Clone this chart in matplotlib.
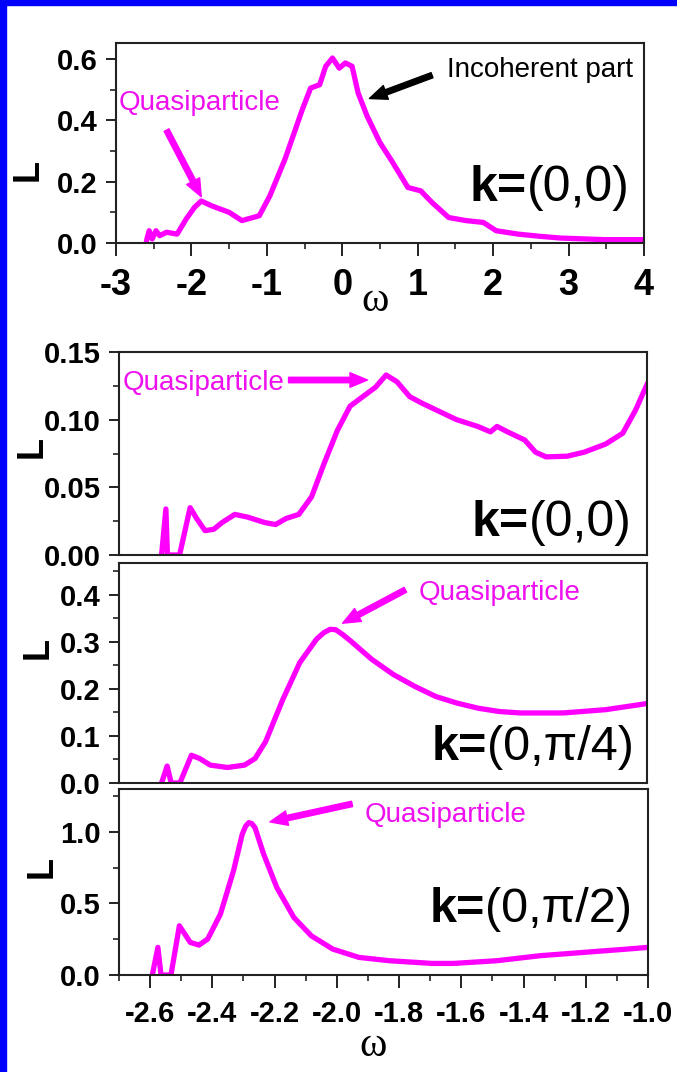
import matplotlib
matplotlib.use("Agg")
import matplotlib.pyplot as plt
from matplotlib.patches import Rectangle
from matplotlib.ticker import MultipleLocator, FormatStrFormatter

W, H = 677, 1072
MAGENTA = "#ff00ff"
TXT_MAG = "#ee10ee"
SANS = ["Liberation Sans", "DejaVu Sans"]
SERIF = ["Liberation Serif", "DejaVu Serif"]

plt.rcParams["axes.unicode_minus"] = False
plt.rcParams["font.family"] = SANS

# top panel: k=(0,0), full window
w_full = [-2.60, -2.59, -2.56, -2.52, -2.47, -2.42, -2.33, -2.19, -2.07, -1.96, -1.87,
          -1.73, -1.50, -1.33, -1.10, -0.96, -0.76, -0.53, -0.42, -0.30, -0.22, -0.13,
          -0.04, 0.04, 0.13, 0.21, 0.33, 0.50, 0.67, 0.87, 1.04, 1.19, 1.41, 1.64, 1.87,
          2.04, 2.33, 2.61, 2.90, 3.47, 4.00]
L_full = [0.0, 0.013, 0.040, 0.013, 0.040, 0.024, 0.035, 0.029, 0.078, 0.116, 0.137,
          0.121, 0.100, 0.073, 0.089, 0.154, 0.273, 0.435, 0.505, 0.516, 0.576, 0.603,
          0.570, 0.587, 0.576, 0.489, 0.413, 0.327, 0.262, 0.181, 0.170, 0.132, 0.083,
          0.073, 0.067, 0.040, 0.029, 0.022, 0.016, 0.011, 0.011]

# zoomed panels
w_k00 = [-2.563, -2.549, -2.544, -2.505, -2.471, -2.450, -2.423, -2.395, -2.368, -2.327,
         -2.286, -2.231, -2.196, -2.162, -2.121, -2.080, -2.039, -1.997, -1.956, -1.915,
         -1.874, -1.840, -1.805, -1.764, -1.723, -1.613, -1.545, -1.504, -1.483, -1.449,
         -1.394, -1.359, -1.325, -1.257, -1.202, -1.133, -1.078, -1.037, -1.000]
L_k00 = [0.0, 0.034, 0.0, 0.0, 0.035, 0.027, 0.018, 0.019, 0.024, 0.030,
         0.028, 0.024, 0.0225, 0.027, 0.030, 0.043, 0.068, 0.092, 0.110, 0.117,
         0.124, 0.133, 0.128, 0.117, 0.112, 0.100, 0.095, 0.091, 0.095, 0.091,
         0.085, 0.076, 0.0725, 0.073, 0.076, 0.082, 0.090, 0.107, 0.126]

w_k04 = [-2.563, -2.545, -2.532, -2.504, -2.467, -2.440, -2.406, -2.351, -2.296, -2.262,
         -2.228, -2.173, -2.118, -2.064, -2.040, -2.020, -2.002, -1.980, -1.954, -1.886,
         -1.817, -1.749, -1.680, -1.612, -1.543, -1.475, -1.407, -1.270, -1.133, -1.000]
L_k04 = [0.0, 0.036, 0.0, 0.0, 0.059, 0.052, 0.038, 0.033, 0.038, 0.052,
         0.088, 0.177, 0.256, 0.306, 0.320, 0.327, 0.326, 0.316, 0.302, 0.263,
         0.231, 0.206, 0.184, 0.170, 0.159, 0.152, 0.149, 0.149, 0.156, 0.169]

w_k02 = [-2.593, -2.575, -2.565, -2.533, -2.506, -2.471, -2.443, -2.415, -2.374, -2.332,
         -2.304, -2.293, -2.283, -2.273, -2.263, -2.235, -2.193, -2.138, -2.082, -2.013,
         -1.929, -1.832, -1.693, -1.624, -1.485, -1.346, -1.207, -1.068, -1.000]
L_k02 = [0.0, 0.193, 0.0, 0.0, 0.344, 0.228, 0.209, 0.251, 0.426, 0.728,
         0.984, 1.040, 1.065, 1.058, 1.030, 0.844, 0.612, 0.402, 0.274, 0.181,
         0.123, 0.100, 0.081, 0.081, 0.100, 0.135, 0.158, 0.181, 0.193]


def px_axes(l, t, r, b):
    return fig.add_axes([l / W, 1 - b / H, (r - l) / W, (b - t) / H])


def style(ax):
    for s in ax.spines.values():
        s.set_linewidth(1.5)
        s.set_color("#222222")
    ax.tick_params(which="major", length=7, width=1.4, direction="out", color="#222222")
    ax.tick_params(which="minor", length=4, width=1.2, direction="out", color="#222222")
    ax.tick_params(axis="y", labelsize=21, pad=6)
    ax.tick_params(axis="x", which="major", length=9, pad=9)
    for lab in ax.get_yticklabels() + ax.get_xticklabels():
        lab.set_fontweight("bold")


def k_label(ax, x, y, rest, size):
    t = ax.text(x, y, rest, ha="right", va="center", fontsize=size)
    ax.annotate("k=", xy=(0, 0), xycoords=t, ha="right", va="bottom",
                fontsize=size, fontweight="bold")


def arrow(ax, head, tail, color):
    ax.annotate("", xy=head, xytext=tail,
                arrowprops=dict(arrowstyle="simple,head_length=0.9,head_width=0.75,tail_width=0.28",
                                color=color, mutation_scale=14, shrinkA=0, shrinkB=0))


fig = plt.figure(figsize=(W / 100, H / 100), dpi=100)
fig.patch.set_facecolor("white")
fig.add_artist(Rectangle((0, 0), 6 / W, 1, transform=fig.transFigure, color="#0000ff", zorder=10))
fig.add_artist(Rectangle((0, 1 - 5 / H), 1, 5 / H, transform=fig.transFigure, color="#0000ff", zorder=10))

# ---- top panel
ax0 = px_axes(116, 43, 644, 243)
ax0.plot(w_full, L_full, color=MAGENTA, lw=3.8, solid_joinstyle="round")
ax0.set_xlim(-3, 4)
ax0.set_ylim(0, 0.652)
ax0.xaxis.set_major_locator(MultipleLocator(1))
ax0.xaxis.set_minor_locator(MultipleLocator(0.5))
ax0.yaxis.set_major_locator(MultipleLocator(0.2))
ax0.yaxis.set_minor_locator(MultipleLocator(0.1))
ax0.xaxis.set_major_formatter(FormatStrFormatter("%d"))
ax0.yaxis.set_major_formatter(FormatStrFormatter("%.1f"))
style(ax0)
ax0.tick_params(axis="x", labelsize=26)
for lab in ax0.get_xticklabels():
    lab.set_fontweight("bold")
ax0.text(0.49, -0.29, "ω", transform=ax0.transAxes, ha="center", va="center",
         fontsize=30, family=SERIF)
ax0.text(-2.97, 0.456, "Quasiparticle", color=TXT_MAG, fontsize=20, ha="left", va="center")
arrow(ax0, (-1.87, 0.151), (-2.33, 0.368), MAGENTA)
ax0.text(3.85, 0.564, "Incoherent part", color="black", fontsize=20, ha="right", va="center")
arrow(ax0, (0.36, 0.471), (1.19, 0.547), "black")
k_label(ax0, 3.81, 0.18, "(0,0)", 36)

# ---- zoomed panels
ax1 = px_axes(119, 352, 647, 555)
ax2 = px_axes(119, 563, 647, 783)
ax3 = px_axes(119, 789, 648, 975)

panels = [(ax1, w_k00, L_k00, 0.15, 0.05, "%.2f"),
          (ax2, w_k04, L_k04, 0.468, 0.1, "%.1f"),
          (ax3, w_k02, L_k02, 1.30, 0.5, "%.1f")]
for ax, w, L, top, step, fmt in panels:
    ax.plot(w, L, color=MAGENTA, lw=3.8, solid_joinstyle="round")
    ax.set_xlim(-2.7, -1.0)
    ax.set_ylim(0, top)
    ax.xaxis.set_major_locator(MultipleLocator(0.2))
    ax.xaxis.set_minor_locator(MultipleLocator(0.1))
    ax.yaxis.set_major_locator(MultipleLocator(step))
    ax.yaxis.set_minor_locator(MultipleLocator(step / 2))
    ax.yaxis.set_major_formatter(FormatStrFormatter(fmt))
    ax.xaxis.set_major_formatter(FormatStrFormatter("%.1f"))
    style(ax)

for ax in (ax1, ax2):
    ax.tick_params(axis="x", which="both", bottom=False, labelbottom=False)
ax3.tick_params(axis="x", labelsize=21)
for lab in ax3.get_xticklabels():
    lab.set_fontweight("bold")
ax3.text(0.48, -0.38, "ω", transform=ax3.transAxes, ha="center", va="center",
         fontsize=30, family=SERIF)

ax1.text(-2.687, 0.127, "Quasiparticle", color=TXT_MAG, fontsize=20, ha="left", va="center")
arrow(ax1, (-1.90, 0.1293), (-2.154, 0.1293), MAGENTA)
k_label(ax1, -1.05, 0.0236, "(0,0)", 36)

ax2.text(-1.736, 0.404, "Quasiparticle", color=TXT_MAG, fontsize=20, ha="left", va="center")
arrow(ax2, (-1.98, 0.340), (-1.778, 0.411), MAGENTA)
k_label(ax2, -1.043, 0.0745, "(0,π/4)", 35)

ax3.text(-1.91, 1.12, "Quasiparticle", color=TXT_MAG, fontsize=20, ha="left", va="center")
arrow(ax3, (-2.215, 1.07), (-1.951, 1.196), MAGENTA)
k_label(ax3, -1.05, 0.455, "(0,π/2)", 35)

# rotated "L" axis labels
for x, y in [(28, 170), (32, 447), (38, 648), (42, 867)]:
    fig.text(x / W, 1 - y / H, "L", rotation=90, ha="center", va="center",
             fontsize=26, fontweight="bold")

fig.savefig("out.png", dpi=100)
